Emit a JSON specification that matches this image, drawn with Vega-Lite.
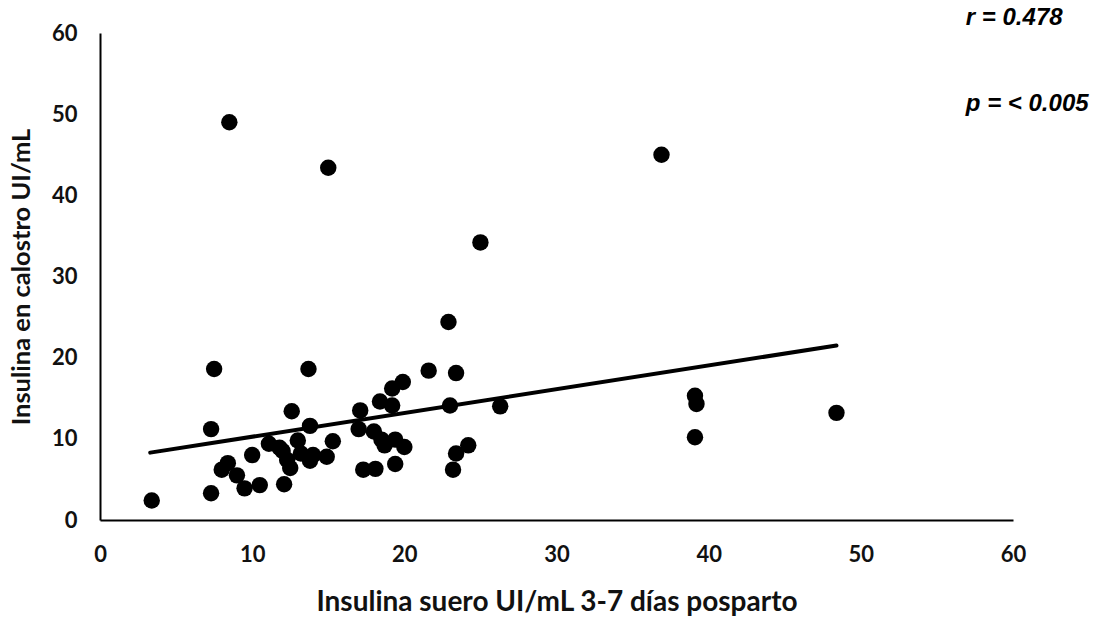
{
  "$schema": "https://vega.github.io/schema/vega-lite/v6.json",
  "width": 913,
  "height": 487,
  "autosize": {"type": "none"},
  "padding": {"left": 100, "top": 33, "right": 89, "bottom": 98},
  "background": "white",
  "config": {"view": {"stroke": null}},
  "datasets": {
    "pts": [
      {"x": 3.4, "y": 2.4}, {"x": 7.3, "y": 3.3}, {"x": 7.3, "y": 11.2}, {"x": 7.5, "y": 18.6},
      {"x": 8.0, "y": 6.2}, {"x": 8.4, "y": 7.0}, {"x": 9.0, "y": 5.5}, {"x": 9.5, "y": 3.9},
      {"x": 10.0, "y": 8.0}, {"x": 10.5, "y": 4.3}, {"x": 11.1, "y": 9.4}, {"x": 11.8, "y": 8.9},
      {"x": 12.0, "y": 8.5}, {"x": 12.1, "y": 4.4}, {"x": 12.3, "y": 7.4}, {"x": 12.5, "y": 6.4},
      {"x": 12.6, "y": 13.4}, {"x": 13.0, "y": 9.8}, {"x": 13.2, "y": 8.2}, {"x": 13.7, "y": 18.6},
      {"x": 13.8, "y": 11.6}, {"x": 13.8, "y": 7.3}, {"x": 14.0, "y": 8.0}, {"x": 14.9, "y": 7.8},
      {"x": 15.3, "y": 9.7}, {"x": 17.0, "y": 11.2}, {"x": 17.1, "y": 13.5}, {"x": 17.3, "y": 6.2},
      {"x": 18.0, "y": 10.9}, {"x": 18.1, "y": 6.3}, {"x": 18.4, "y": 14.6}, {"x": 18.5, "y": 9.9},
      {"x": 18.7, "y": 9.2}, {"x": 19.2, "y": 14.1}, {"x": 19.2, "y": 16.2}, {"x": 19.4, "y": 9.9},
      {"x": 19.4, "y": 6.9}, {"x": 19.9, "y": 17.0}, {"x": 20.0, "y": 9.0}, {"x": 21.6, "y": 18.4},
      {"x": 22.9, "y": 24.4}, {"x": 23.0, "y": 14.1}, {"x": 23.2, "y": 6.2}, {"x": 23.4, "y": 18.1},
      {"x": 23.4, "y": 8.2}, {"x": 24.2, "y": 9.2}, {"x": 25.0, "y": 34.2}, {"x": 26.3, "y": 14.0},
      {"x": 8.5, "y": 49.0}, {"x": 15.0, "y": 43.4}, {"x": 36.9, "y": 45.0}, {"x": 39.1, "y": 15.3},
      {"x": 39.2, "y": 14.3}, {"x": 39.1, "y": 10.2}, {"x": 48.4, "y": 13.2}
    ],
    "trend": [
      {"x": 3.3, "y": 8.3}, {"x": 48.4, "y": 21.5}
    ],
    "notes": [
      {"x": 56.9, "y": 61.9, "label": "r = 0.478"},
      {"x": 56.9, "y": 51.2, "label": "p = < 0.005"}
    ]
  },
  "layer": [
    {
      "data": {"name": "trend"},
      "mark": {"type": "line", "color": "black", "strokeWidth": 4, "strokeCap": "round"},
      "encoding": {
        "x": {"field": "x", "type": "quantitative", "scale": {"domain": [0, 60]},
          "axis": {"title": "Insulina suero UI/mL 3-7 días posparto", "values": [0, 10, 20, 30, 40, 50, 60],
            "grid": false, "ticks": false, "domainColor": "black", "domainWidth": 2, "labelFlush": false,
            "labelFont": "Lato", "labelFontWeight": "bold", "labelFontSize": 22, "labelColor": "#111",
            "labelPadding": 24, "titleFont": "Lato", "titleFontWeight": "bold", "titleFontSize": 28,
            "titleColor": "#111", "titlePadding": 23}},
        "y": {"field": "y", "type": "quantitative", "scale": {"domain": [0, 60]},
          "axis": {"title": "Insulina en calostro UI/mL", "values": [0, 10, 20, 30, 40, 50, 60],
            "grid": false, "ticks": false, "domainColor": "black", "domainWidth": 2, "labelFlush": false,
            "labelFont": "Lato", "labelFontWeight": "bold", "labelFontSize": 22, "labelColor": "#111",
            "labelPadding": 23, "titleFont": "Lato", "titleFontWeight": "bold", "titleFontSize": 25.5,
            "titleColor": "#111", "titlePadding": 17}}
      }
    },
    {
      "data": {"name": "pts"},
      "mark": {"type": "point", "filled": true, "color": "black", "opacity": 1, "size": 270},
      "encoding": {
        "x": {"field": "x", "type": "quantitative"},
        "y": {"field": "y", "type": "quantitative"}
      }
    },
    {
      "data": {"name": "notes"},
      "mark": {"type": "text", "font": "Liberation Sans", "fontWeight": "bold", "fontStyle": "italic",
        "fontSize": 24, "align": "left", "baseline": "middle", "color": "black", "clip": false},
      "encoding": {
        "x": {"field": "x", "type": "quantitative"},
        "y": {"field": "y", "type": "quantitative"},
        "text": {"field": "label"}
      }
    }
  ]
}
